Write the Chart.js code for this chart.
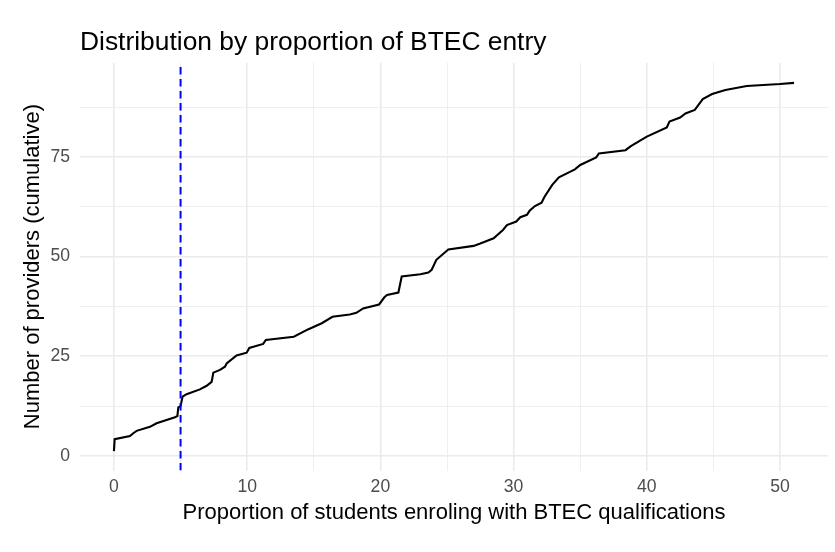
<!DOCTYPE html>
<html>
<head>
<meta charset="utf-8">
<title>Distribution by proportion of BTEC entry</title>
<script src="https://cdn.jsdelivr.net/npm/chart.js@4.4.1/dist/chart.umd.min.js"></script>
<style>
  html, body { margin: 0; padding: 0; background: #fff; }
  #wrap { width: 835px; height: 552px; }
</style>
</head>
<body>
<div id="wrap"><canvas id="grafico"></canvas></div>
<script>
// Datos (proporción BTEC %, proveedores acumulados)
const proporcion = [0, 0.05, 1.2, 1.45, 1.7, 2.7, 3.2, 4.58, 4.76, 4.83, 5.0, 5.15, 5.45, 6.45, 6.96, 7.33, 7.46,
  7.96, 8.33, 8.46, 9.2, 9.96, 10.16, 11.2, 11.4, 13.5, 14.6, 15.6, 16.4, 17.7, 18.2, 18.7, 19.9, 20.3, 20.5,
  21.35, 21.6, 23.0, 23.6, 23.85, 24.2, 25.1, 27.0, 27.5, 28.5, 29.2, 29.5, 30.2, 30.5, 31.0, 31.2, 31.6,
  32.1, 32.3, 32.9, 33.4, 34.0, 34.6, 35.0, 36.2, 36.4, 38.4, 38.8, 40.0, 41.5, 41.7, 42.5, 42.9, 43.6,
  44.2, 44.9, 45.9, 47.5, 50.0, 51.05];
const acumulado = [1.2, 4.2, 5.0, 5.7, 6.3, 7.3, 8.2, 9.7, 10.0, 12.2, 12.5, 14.9, 15.5, 16.7, 17.6, 18.6, 20.9,
  21.6, 22.4, 23.2, 25.2, 25.9, 27.1, 28.1, 29.1, 29.9, 31.8, 33.3, 34.9, 35.5, 35.9, 37.0, 38.0, 39.8, 40.4,
  41.0, 45.0, 45.6, 46.0, 46.7, 49.2, 51.8, 52.7, 53.3, 54.6, 56.7, 57.9, 58.8, 59.9, 60.5, 61.5, 62.7,
  63.5, 64.9, 68.0, 69.9, 70.9, 71.9, 73.0, 74.9, 75.9, 76.7, 77.7, 80.1, 82.4, 83.9, 84.9, 85.9, 86.8,
  89.5, 90.8, 91.8, 92.8, 93.3, 93.6];
const corte = 5;
const xTicks = [0, 10, 20, 30, 40, 50];
const xMinor = [5, 15, 25, 35, 45];
const yTicks = [0, 25, 50, 75];
const yMinor = [12.5, 37.5, 62.5, 87.5];

const xMin = -2.55, xMax = 53.6;
const yMin = -3.65, yMax = 98.65;

const fuente = '"Liberation Sans", Arial, sans-serif';
const gris = '#EBEBEB';

const puntos = proporcion.map((x, i) => ({ x: x, y: acumulado[i] }));

// Título alineado con el panel
const tituloPlugin = {
  id: 'tituloPlugin',
  afterDraw(chart) {
    const c = chart.ctx;
    c.save();
    c.font = '26.4px ' + fuente;
    c.fillStyle = '#000';
    c.textBaseline = 'alphabetic';
    c.textAlign = 'left';
    c.fillText('Distribution by proportion of BTEC entry', chart.chartArea.left, 50);
    c.restore();
  }
};

function conMenores(mayores, menores) {
  return mayores.concat(menores).sort((a, b) => a - b).map(v => ({ value: v }));
}

const ctx = document.getElementById('grafico').getContext('2d');
new Chart(ctx, {
  type: 'scatter',
  data: {
    datasets: [
      {
        data: puntos,
        showLine: true,
        borderColor: '#000',
        borderWidth: 2.1,
        pointRadius: 0,
        tension: 0,
        order: 2
      },
      {
        data: [{ x: corte, y: yMin }, { x: corte, y: yMax }],
        showLine: true,
        borderColor: '#0000FF',
        borderWidth: 2,
        borderDash: [7.5, 4.5],
        pointRadius: 0,
        order: 1
      }
    ]
  },
  options: {
    responsive: true,
    maintainAspectRatio: false,
    animation: false,
    layout: { padding: { left: 0, right: 7, top: 62.7, bottom: 0 } },
    plugins: {
      legend: { display: false },
      tooltip: { enabled: false },
      title: { display: false }
    },
    scales: {
      x: {
        type: 'linear',
        min: xMin,
        max: xMax,
        afterBuildTicks: s => { s.ticks = conMenores(xTicks, xMinor); },
        afterFit: s => { s.height = 81.5; },
        border: { display: false },
        grid: {
          color: gris,
          drawTicks: false,
          lineWidth: c => (xTicks.includes(c.tick.value) ? 1.6 : 0.8)
        },
        ticks: {
          padding: 6.5,
          color: '#4D4D4D',
          font: { family: fuente, size: 17.6 },
          maxRotation: 0,
          autoSkip: false,
          callback: v => (xTicks.includes(v) ? v : '')
        },
        title: {
          display: true,
          text: 'Proportion of students enroling with BTEC qualifications',
          color: '#000',
          font: { family: fuente, size: 22 },
          padding: { top: 25.5, bottom: 25.5 }
        }
      },
      y: {
        type: 'linear',
        min: yMin,
        max: yMax,
        afterBuildTicks: s => { s.ticks = conMenores(yTicks, yMinor); },
        afterFit: s => { s.width = 80; },
        border: { display: false },
        grid: {
          color: gris,
          drawTicks: false,
          lineWidth: c => (yTicks.includes(c.tick.value) ? 1.6 : 0.8)
        },
        ticks: {
          padding: 10,
          color: '#4D4D4D',
          font: { family: fuente, size: 17.6 },
          autoSkip: false,
          callback: v => (yTicks.includes(v) ? v : '')
        },
        title: {
          display: true,
          text: 'Number of providers (cumulative)',
          color: '#000',
          font: { family: fuente, size: 22 },
          padding: { top: 20, bottom: 20 }
        }
      }
    }
  },
  plugins: [tituloPlugin]
});
</script>
</body>
</html>
